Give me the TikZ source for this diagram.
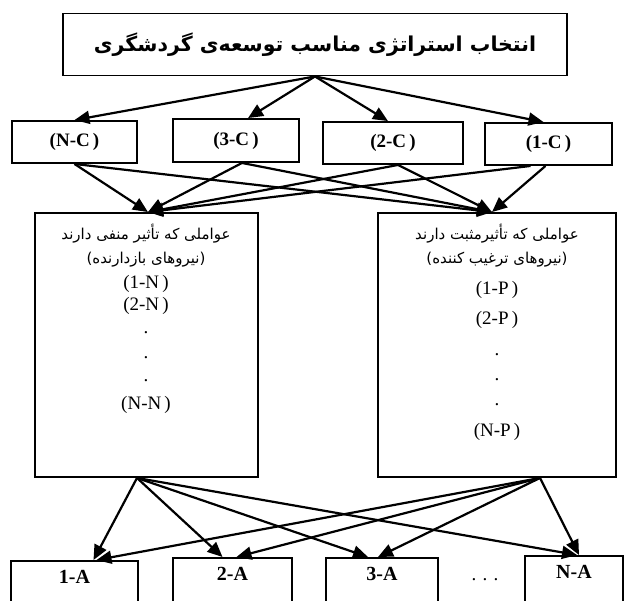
\documentclass[tikz,border=0pt]{standalone}
\usepackage{fontspec}
\setmainfont{Liberation Serif}
\newfontfamily\arabicfont[Script=Arabic]{DejaVu Sans}
\TeXXeTstate=1
\usetikzlibrary{arrows.meta}
\begin{document}
\begin{tikzpicture}[x=1pt,y=-1pt,
  box/.style={draw, line width=1.9pt, inner sep=0pt},
  cbox/.style={box, font=\bfseries\fontsize{19}{22}\selectfont},
  abox/.style={box, anchor=north, font=\bfseries\fontsize{20}{24}\selectfont,
    text height=20pt, text depth=32pt, inner ysep=3pt},
  arr/.style={line width=2.2pt, -{Triangle[length=15pt,width=13pt]}},
  fa/.style={font=\arabicfont\fontsize{15}{18}\selectfont},
  it/.style={font=\fontsize{19}{22}\selectfont}]
\useasboundingbox (0,0) rectangle (628,600);
\clip (0,0) rectangle (628,600);
% title
\node[box, minimum width=504pt, minimum height=62pt] (T) at (315,44.5)
  {\arabicfont\bfseries\fontsize{20.5}{24}\selectfont\beginR انتخاب استراتژی مناسب توسعه‌ی گردشگری\endR};
% criteria boxes
\node[cbox, minimum width=125pt, minimum height=42pt] (NC) at (74.5,142) {(N-C\,)};
\node[cbox, minimum width=126pt, minimum height=43pt] (C3) at (236,140.5) {(3-C\,)};
\node[cbox, minimum width=140pt, minimum height=42pt] (C2) at (393,143) {(2-C\,)};
\node[cbox, minimum width=127pt, minimum height=42pt] (C1) at (548.5,144) {(1-C\,)};
% factor boxes
\node[box, minimum width=223pt, minimum height=264pt] (L) at (146.5,345) {};
\node[box, minimum width=238pt, minimum height=264pt] (R) at (497,345) {};
\node[fa] (L1) at (146,234) {\beginR عواملی که تأثیر منفی دارند\endR};
\node[fa] (L2) at (146,260) {\beginR (نیروهای بازدارنده)\endR};
\node[it] (L3) at (146,284) {(1-N\,)};
\node[it] (L4) at (146,306) {(2-N\,)};
\node[it] (L5) at (146,333) {.};
\node[it] (L6) at (146,358) {.};
\node[it] (L7) at (146,381) {.};
\node[it] (L8) at (146,405) {(N-N\,)};
\node[fa] (R1) at (497,234) {\beginR عواملی که تأثیرمثبت دارند\endR};
\node[fa] (R2) at (497,260) {\beginR (نیروهای ترغیب کننده)\endR};
\node[it] (R3) at (497,290) {(1-P\,)};
\node[it] (R4) at (497,320) {(2-P\,)};
\node[it] (R5) at (497,355) {.};
\node[it] (R6) at (497,380) {.};
\node[it] (R7) at (497,405) {.};
\node[it] (R8) at (497,432) {(N-P\,)};
% alternatives
\node[abox, minimum width=127pt] (A1) at (74.5,560) {1-A};
\node[abox, minimum width=119pt] (A2) at (232.5,557) {2-A};
\node[abox, minimum width=112pt] (A3) at (382,557) {3-A};
\node[abox, minimum width=98pt] (NA) at (574,555) {N-A};
\node[it] (dots) at (485,580) {. . .};
% anchor points
\coordinate (Tout) at (T.south);
\coordinate (Lin) at ([xshift=1.5pt]L.north);
\coordinate (Rin) at ([xshift=-5pt]R.north);
\coordinate (Lout) at ([xshift=-9.5pt]L.south);
\coordinate (Rout) at ([xshift=43pt]R.south);
% title -> criteria
\draw[arr] (Tout) -- (NC.north);
\draw[arr] (Tout) -- ([xshift=12pt]C3.north);
\draw[arr] (Tout) -- ([xshift=-5pt]C2.north);
\draw[arr] (Tout) -- ([xshift=-5pt]C1.north);
% criteria -> factors
\draw[arr] (NC.south) -- (Lin);
\draw[arr] (NC.south) -- (Rin);
\draw[arr] ([xshift=6pt]C3.south) -- (Lin);
\draw[arr] ([xshift=6pt]C3.south) -- (Rin);
\draw[arr] ([xshift=5pt]C2.south) -- (Lin);
\draw[arr] ([xshift=5pt]C2.south) -- (Rin);
\draw[arr] ([xshift=-18pt]C1.south) -- (Lin);
\draw[arr] ([xshift=-3pt]C1.south) -- (Rin);
% factors -> alternatives
\draw[arr] (Lout) -- ([xshift=19pt]A1.north);
\draw[arr] (Rout) -- ([xshift=22pt]A1.north);
\draw[arr] (Lout) -- ([xshift=-10pt]A2.north);
\draw[arr] (Rout) -- ([xshift=4pt]A2.north);
\draw[arr] (Lout) -- ([xshift=-14pt]A3.north);
\draw[arr] (Rout) -- ([xshift=-4pt]A3.north);
\draw[arr] (Lout) -- ([xshift=3pt]NA.north);
\draw[arr] (Rout) -- ([xshift=5pt]NA.north);
\end{tikzpicture}
\end{document}
